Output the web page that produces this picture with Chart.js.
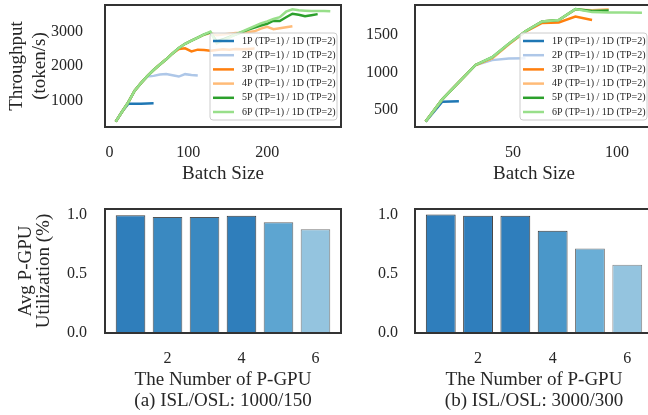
<!DOCTYPE html>
<html>
<head>
<meta charset="utf-8">
<script src="https://cdn.jsdelivr.net/npm/chart.js@4.4.1/dist/chart.umd.min.js"></script>
<style>
  body { margin: 0; background: #fff; width: 648px; height: 415px; overflow: hidden; position: relative; }
  canvas { position: absolute; }
</style>
</head>
<body>
<canvas id="tl" width="345" height="195" style="left:0;top:0"></canvas>
<canvas id="tr" width="308" height="195" style="left:345px;top:0"></canvas>
<canvas id="bl" width="345" height="220" style="left:0;top:195px"></canvas>
<canvas id="br" width="308" height="220" style="left:345px;top:195px"></canvas>
<script>
// ---- data ----
const seriesLabels = ['1P (TP=1) / 1D (TP=2)', '2P (TP=1) / 1D (TP=2)', '3P (TP=1) / 1D (TP=2)',
  '4P (TP=1) / 1D (TP=2)', '5P (TP=1) / 1D (TP=2)', '6P (TP=1) / 1D (TP=2)']
const seriesColors = ['#1f77b4', '#aec7e8', '#ff7f0e', '#ffbb78', '#2ca02c', '#98df8a']

// (a) ISL/OSL 1000/150 : throughput vs batch size
const batchA = [8, 16, 24, 32, 40, 48, 56, 64, 72, 80, 88, 96, 104, 112, 120, 128, 136, 144, 152, 160,
  168, 176, 184, 192, 200, 208, 216, 224, 232, 240, 248, 256, 264, 272, 280]
const thrA1P = [395, 680, 910, 915, 910, 920, 925]
const thrA2P = [395, 680, 960, 1290, 1510, 1700, 1720, 1760, 1775, 1740, 1700, 1770, 1745, 1730]
const thrA3P = [395, 680, 960, 1290, 1510, 1710, 1890, 2050, 2200, 2370, 2500, 2520, 2430, 2480, 2470, 2450,
  2470, 2490, 2480, 2500, 2490, 2500, 2510]
const thrA4P = [395, 680, 960, 1290, 1510, 1710, 1890, 2050, 2200, 2370, 2530, 2650, 2740, 2830, 2910, 2960,
  2900, 2920, 2940, 2960, 2970, 2990, 3010, 3090, 3140, 3070, 3100, 3130, 3160]
const thrA5P = [395, 680, 960, 1290, 1510, 1710, 1890, 2050, 2200, 2370, 2530, 2650, 2740, 2830, 2920, 2980,
  2720, 2780, 2850, 2920, 2990, 3060, 3120, 3180, 3230, 3320, 3310, 3420, 3520, 3490, 3450, 3480, 3510]
const thrA6P = [395, 680, 960, 1290, 1510, 1710, 1890, 2050, 2200, 2370, 2530, 2650, 2740, 2830, 2920, 3000,
  2660, 2750, 2830, 2920, 3000, 3080, 3160, 3240, 3300, 3370, 3420, 3580, 3650, 3620, 3610, 3600, 3600, 3600, 3590]

// (b) ISL/OSL 3000/300
const batchB = [8, 16, 24, 32, 40, 48, 56, 64, 72, 80, 88, 96, 104, 112]
const thrB1P = [345, 610, 615]
const thrB2P = [345, 643, 870, 1100, 1165, 1185, 1190]
const thrB3P = [345, 643, 870, 1100, 1190, 1375, 1545, 1660, 1668, 1745, 1700]
const thrB4P = [345, 643, 870, 1100, 1190, 1380, 1550, 1680, 1700, 1840, 1830, 1845]
const thrB5P = [345, 643, 870, 1100, 1205, 1385, 1550, 1680, 1700, 1845, 1820, 1825]
const thrB6P = [345, 643, 870, 1100, 1205, 1385, 1550, 1680, 1700, 1845, 1805, 1800, 1800, 1795]

// avg P-GPU utilization
const gpuCount = [1, 2, 3, 4, 5, 6]
const utilA = [0.995, 0.98, 0.98, 0.99, 0.935, 0.875]
const utilB = [1.0, 0.989, 0.989, 0.864, 0.714, 0.576]
const utilColorsA = ['#2f7ebb', '#3a89c1', '#3a89c1', '#2f7ebb', '#5da5d1', '#94c4df']
const utilColorsB = ['#2f7ebc', '#2f7ebc', '#2f7ebc', '#4a97c9', '#6aaed6', '#94c4df']
const utilEdgesA = ['#3b3b3b', '#555', '#555', '#3b3b3b', '#666', '#777']
const utilEdgesB = ['#333', '#3b3b3b', '#3b3b3b', '#3b3b3b', '#777', '#888']

const ticksXA = [0, 100, 200]
const ticksYA = [1000, 2000, 3000]
const ticksXB = [50, 100]
const ticksYB = [500, 1000, 1500]
const ticksGpu = [2, 4, 6]
const ticksUtil = [0, 0.5, 1.0]

// ---- look ----
const ink = '#262626'
Chart.defaults.font.family = "'Liberation Serif', 'Times New Roman', serif"
Chart.defaults.color = ink
Chart.defaults.animation = false

// box around the axes, like matplotlib spines
const frame = {
  id: 'frame',
  afterDatasetsDraw(chart) {
    const { ctx, chartArea: a } = chart
    ctx.save()
    ctx.strokeStyle = '#333'
    ctx.lineWidth = 2
    ctx.strokeRect(a.left, a.top, a.right - a.left, a.bottom - a.top)
    ctx.restore()
  }
}

// legend drawn inside the plot (lower right)
const boxLegend = {
  id: 'boxLegend',
  afterDraw(chart, args, opts) {
    if (!opts.show) return
    const { ctx, chartArea: a } = chart
    const x = a.right - opts.right - opts.width
    const y = a.bottom - opts.bottom - opts.height
    ctx.save()
    ctx.beginPath()
    ctx.roundRect(x, y, opts.width, opts.height, 3)
    ctx.fillStyle = 'rgba(255,255,255,0.8)'
    ctx.fill()
    ctx.strokeStyle = '#cccccc'
    ctx.lineWidth = 1
    ctx.stroke()
    ctx.font = "10px 'Liberation Serif'"
    ctx.textBaseline = 'middle'
    seriesLabels.forEach((lab, i) => {
      const ry = y + 8 + i * 14.2
      ctx.strokeStyle = seriesColors[i]
      ctx.lineWidth = 2.5
      ctx.beginPath()
      ctx.moveTo(x + 3, ry)
      ctx.lineTo(x + 24, ry)
      ctx.stroke()
      ctx.fillStyle = ink
      ctx.fillText(lab, x + 32, ry)
    })
    ctx.restore()
  }
}

const setTicks = (vals) => (scale) => { scale.ticks = vals.map(v => ({ value: v })) }
const noGrid = { display: false, drawTicks: false }
// fix the axis box sizes so the plot area lands where the figure has it
const fitX = (h) => (s) => { s.height = h; s.paddingLeft = 0; s.paddingRight = 0 }
const fitY = (w) => (s) => { s.width = w; s.paddingTop = 0; s.paddingBottom = 0 }
const plain = (v) => String(v)

function lineChart(id, batch, series, cfg) {
  const datasets = series.map((vals, i) => ({
    label: seriesLabels[i],
    data: vals.map((v, j) => ({ x: batch[j], y: v })),
    borderColor: seriesColors[i],
    borderWidth: 2.5,
    pointRadius: 0,
    tension: 0,
    order: series.length - i   // 6P drawn on top
  }))
  return new Chart(document.getElementById(id), {
    type: 'line',
    data: { datasets },
    options: {
      responsive: false,
      devicePixelRatio: 1,
      layout: { padding: { top: 5, right: cfg.padRight, left: 0, bottom: 0 } },
      plugins: { legend: { display: false }, tooltip: { enabled: false },
        boxLegend: { show: true, right: cfg.legendRight, bottom: 7, width: 127, height: 87 } },
      scales: {
        x: {
          type: 'linear', min: cfg.xMin, max: cfg.xMax,
          grid: noGrid, border: { display: false },
          afterBuildTicks: setTicks(cfg.xTicks),
          afterFit: fitX(68),
          ticks: { padding: 16, font: { size: 16 }, color: ink, callback: plain },
          title: { display: true, text: 'Batch Size', color: ink,
            font: { size: 19, lineHeight: 1.1 }, padding: { top: 0, bottom: 10.5 } }
        },
        y: {
          min: cfg.yMin, max: cfg.yMax,
          grid: noGrid, border: { display: false },
          afterBuildTicks: setTicks(cfg.yTicks),
          afterFit: fitY(cfg.yWidth),
          ticks: { padding: cfg.yPad, font: { size: 16 }, color: ink, callback: plain },
          title: { display: !!cfg.yTitle, text: cfg.yTitle, color: ink,
            font: { size: 19, lineHeight: 1.2 }, padding: { top: 5.6, bottom: 0 } }
        }
      }
    },
    plugins: [frame, boxLegend]
  })
}

function barChart(id, vals, colors, edges, cfg) {
  return new Chart(document.getElementById(id), {
    type: 'bar',
    data: {
      datasets: [{
        data: vals.map((v, i) => ({ x: gpuCount[i], y: v })),
        backgroundColor: colors,
        borderColor: edges,
        borderWidth: 1,
        borderSkipped: false,
        barPercentage: 0.8,
        categoryPercentage: 1.0
      }]
    },
    options: {
      responsive: false,
      devicePixelRatio: 1,
      layout: { padding: { top: 14, right: cfg.padRight, left: 0, bottom: 0 } },
      plugins: { legend: { display: false }, tooltip: { enabled: false } },
      scales: {
        x: {
          type: 'linear', min: 0.31, max: 6.69, offset: false,
          grid: noGrid, border: { display: false },
          afterBuildTicks: setTicks(ticksGpu),
          afterFit: fitX(82),
          ticks: { padding: 16, font: { size: 16 }, color: ink, callback: plain },
          title: { display: true, text: ['The Number of P-GPU', cfg.caption], color: ink,
            font: { size: 19, lineHeight: 1.1 }, padding: { top: 0, bottom: 3.6 } }
        },
        y: {
          min: 0, max: 1.047,
          grid: noGrid, border: { display: false },
          afterBuildTicks: setTicks(ticksUtil),
          afterFit: fitY(cfg.yWidth),
          ticks: { padding: cfg.yPad, font: { size: 16 }, color: ink, callback: (v) => v.toFixed(1) },
          title: { display: !!cfg.yTitle, text: cfg.yTitle, color: ink,
            font: { size: 19, lineHeight: 0.95 }, padding: { top: 17, bottom: 0 } }
        }
      }
    },
    plugins: [frame]
  })
}

lineChart('tl', batchA, [thrA1P, thrA2P, thrA3P, thrA4P, thrA5P, thrA6P], {
  xMin: -5.6, xMax: 293.6, yMin: 238, yMax: 3774, xTicks: ticksXA, yTicks: ticksYA,
  yWidth: 105, yPad: 22, padRight: 4, legendRight: 4, yTitle: ['Throughput', '(token/s)']
})
lineChart('tr', batchB, [thrB1P, thrB2P, thrB3P, thrB4P, thrB5P, thrB6P], {
  xMin: 2.9, xMax: 117.3, yMin: 273, yMax: 1900, xTicks: ticksXB, yTicks: ticksYB,
  yWidth: 70, yPad: 17, padRight: 0, legendRight: 6, yTitle: null
})
barChart('bl', utilA, utilColorsA, utilEdgesA, {
  caption: '(a) ISL/OSL: 1000/150', yWidth: 105, yPad: 18, padRight: 4, yTitle: ['Avg P-GPU', 'Utilization (%)']
})
barChart('br', utilB, utilColorsB, utilEdgesB, {
  caption: '(b) ISL/OSL: 3000/300', yWidth: 70, yPad: 17, padRight: 0, yTitle: null
})
</script>
</body>
</html>
